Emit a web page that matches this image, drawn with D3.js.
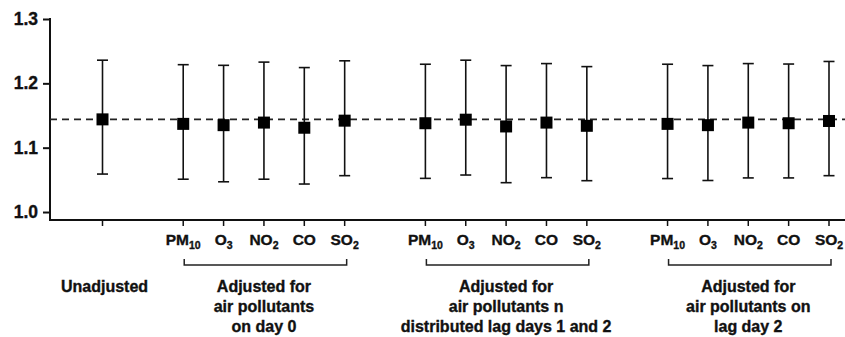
<!DOCTYPE html>
<html>
<head>
<meta charset="utf-8">
<script src="https://cdn.jsdelivr.net/npm/d3@7"></script>
<style>
  body { margin: 0; background: #fff; }
  text { font-family: "Liberation Sans", Arial, sans-serif; font-weight: bold; fill: #111; stroke: #111; stroke-width: 0.35px; }
</style>
</head>
<body>
<svg class="main-svg" width="845" height="337"></svg>
<script>
// slot index on the x axis (gaps between groups are empty slots)
const slots = [0, 2, 3, 4, 5, 6, 8, 9, 10, 11, 12, 14, 15, 16, 17, 18];
const pollutants = [["PM", "10"], ["O", "3"], ["NO", "2"], ["CO", ""], ["SO", "2"]];
const tickNames = [["", ""]].concat(pollutants, pollutants, pollutants);

const estimate = [1.144, 1.137, 1.135, 1.139, 1.131, 1.142,
                  1.138, 1.1435, 1.133, 1.139, 1.134,
                  1.137, 1.135, 1.139, 1.138, 1.1415];
const lower = [1.059, 1.051, 1.047, 1.051, 1.0435, 1.0565,
               1.0523, 1.0575, 1.0456, 1.0534, 1.0487,
               1.052, 1.049, 1.053, 1.053, 1.0565];
const upper = [1.236, 1.229, 1.228, 1.233, 1.2245, 1.235,
               1.2297, 1.236, 1.2276, 1.2307, 1.226,
               1.2297, 1.2276, 1.2307, 1.230, 1.234];

const refLine = 1.144;
const yTicks = [1.0, 1.1, 1.2, 1.3];

const groups = [
  { from: 0, to: 0, lines: ["Unadjusted"] },
  { from: 2, to: 6, lines: ["Adjusted for", "air pollutants", "on day 0"] },
  { from: 8, to: 12, lines: ["Adjusted for", "air pollutants n", "distributed lag days 1 and 2"] },
  { from: 14, to: 18, lines: ["Adjusted for", "air pollutants on", "lag day 2"] }
];

const svg = d3.select(".main-svg");
const axisX = 50, axisY = 220;

const x = d3.scaleLinear().domain([0, 18]).range([102.5, 829]);
const y = d3.scaleLinear().domain([0.9876, 1.3]).range([axisY, 19]);

// y axis
const yAxis = svg.append("g")
    .attr("transform", `translate(${axisX},0)`)
    .call(d3.axisLeft(y).tickValues(yTicks).tickFormat(d3.format(".1f")).tickSize(7).tickPadding(5));
yAxis.select(".domain").remove();
yAxis.selectAll(".tick line").attr("stroke", "#111").attr("stroke-width", 2);
yAxis.selectAll(".tick text").style("font-size", "17.5px").attr("fill", "#111");

svg.append("line")
    .attr("x1", axisX).attr("x2", axisX)
    .attr("y1", y(1.3) - 1).attr("y2", axisY)
    .attr("stroke", "#111").attr("stroke-width", 2);

// x axis
svg.append("line")
    .attr("x1", axisX - 1).attr("x2", 845)
    .attr("y1", axisY).attr("y2", axisY)
    .attr("stroke", "#111").attr("stroke-width", 2);

svg.append("g").selectAll("line")
  .data(slots)
  .join("line")
    .attr("x1", d => x(d)).attr("x2", d => x(d))
    .attr("y1", axisY).attr("y2", axisY + 6)
    .attr("stroke", "#111").attr("stroke-width", 1.5);

const tl = svg.append("g").selectAll("text")
  .data(slots.map((s, i) => ({ s, name: tickNames[i] })).filter(d => d.name[0]))
  .join("text")
    .attr("x", d => x(d.s))
    .attr("y", axisY + 25)
    .attr("text-anchor", "middle")
    .style("font-size", "15.5px");
tl.append("tspan").text(d => d.name[0]);
tl.append("tspan")
    .attr("dy", 4)
    .style("font-size", "10.5px")
    .text(d => d.name[1]);

// reference line
svg.append("line")
    .attr("x1", axisX).attr("x2", 845)
    .attr("y1", y(refLine)).attr("y2", y(refLine))
    .attr("stroke", "#222").attr("stroke-width", 1.7)
    .attr("stroke-dasharray", "7,5");

// error bars
const bars = svg.append("g").selectAll("g")
  .data(slots.map((s, i) => ({ s, est: estimate[i], lo: lower[i], hi: upper[i] })))
  .join("g")
    .attr("stroke", "#111")
    .attr("stroke-width", 1.6);

bars.append("line")
    .attr("x1", d => x(d.s)).attr("x2", d => x(d.s))
    .attr("y1", d => y(d.lo)).attr("y2", d => y(d.hi));
bars.append("line")
    .attr("x1", d => x(d.s) - 5.5).attr("x2", d => x(d.s) + 5.5)
    .attr("y1", d => y(d.lo)).attr("y2", d => y(d.lo));
bars.append("line")
    .attr("x1", d => x(d.s) - 5.5).attr("x2", d => x(d.s) + 5.5)
    .attr("y1", d => y(d.hi)).attr("y2", d => y(d.hi));
bars.append("rect")
    .attr("x", d => x(d.s) - 6).attr("y", d => y(d.est) - 6)
    .attr("width", 12).attr("height", 12)
    .attr("fill", "#000").attr("stroke", "none");

// group brackets and labels
const brackets = groups.filter(g => g.to > g.from);
svg.append("g").selectAll("path")
  .data(brackets)
  .join("path")
    .attr("d", g => `M${x(g.from) + 1},259V265H${x(g.to) + 2}V259`)
    .attr("fill", "none")
    .attr("stroke", "#222")
    .attr("stroke-width", 1.5);

const gl = svg.append("g").selectAll("text")
  .data(groups)
  .join("text")
    .attr("x", g => x((g.from + g.to) / 2) + (g.from === 0 ? 2 : 0))
    .attr("y", 292)
    .attr("text-anchor", "middle")
    .style("font-size", "16px");
gl.selectAll("tspan")
  .data(g => g.lines.map(l => ({ l, cx: x((g.from + g.to) / 2) + (g.from === 0 ? 2 : 0) })))
  .join("tspan")
    .attr("x", d => d.cx)
    .attr("dy", (d, i) => i ? 20 : 0)
    .text(d => d.l);
</script>
</body>
</html>
